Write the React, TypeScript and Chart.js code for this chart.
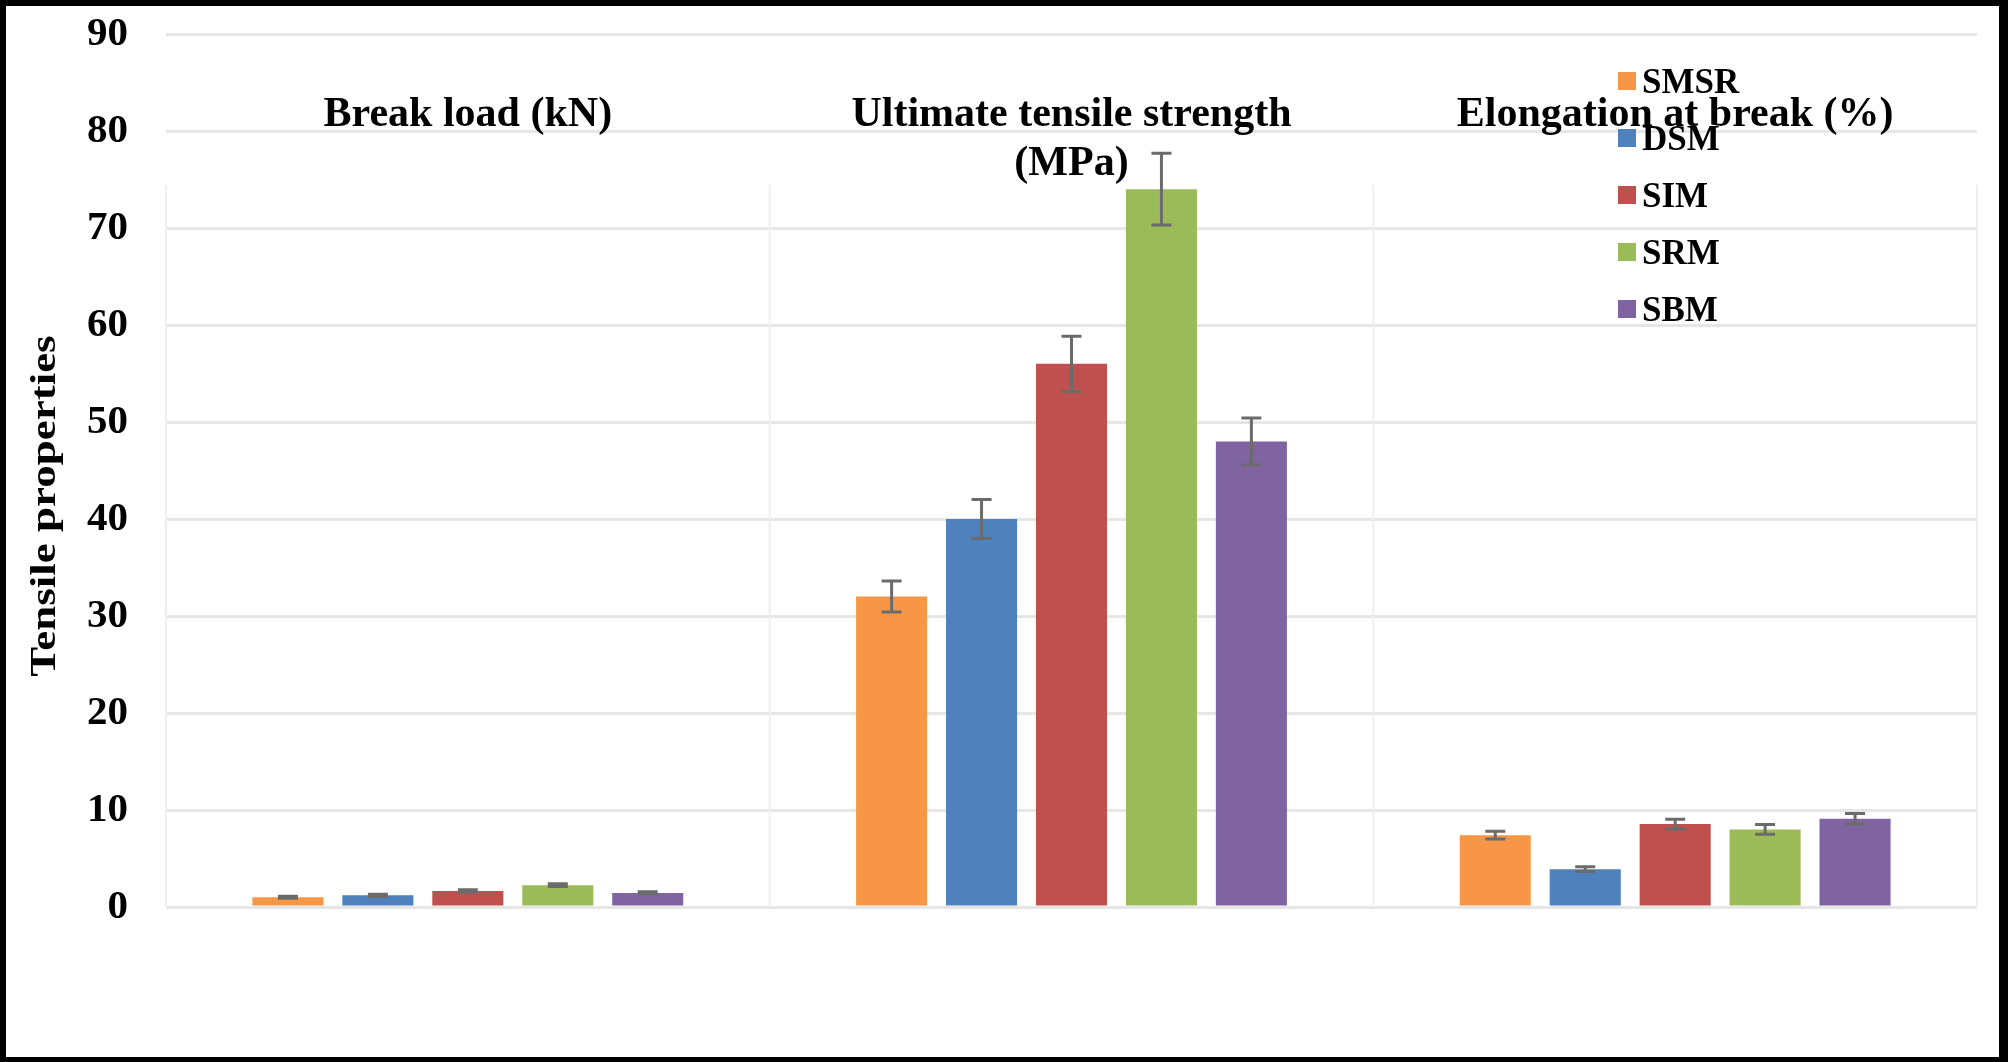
import React, { useEffect, useRef } from "react";
import { Chart, registerables } from "chart.js";

Chart.register(...registerables);

// ---------- data ----------
const categories: string[][] = [
  ["Break load (kN)"],
  ["Ultimate tensile strength", "(MPa)"],
  ["Elongation at break (%)"],
];
const seriesNames = ["SMSR", "DSM", "SIM", "SRM", "SBM"];
const seriesColors = ["#F79646", "#4F81BD", "#C0504D", "#9BBB59", "#8064A2"];

const smsrValues = [1.0, 32.0, 7.4];
const dsmValues = [1.2, 40.0, 3.9];
const simValues = [1.65, 56.0, 8.55];
const srmValues = [2.25, 74.0, 8.0];
const sbmValues = [1.45, 48.0, 9.1];

const smsrErrors = [0.1, 1.6, 0.4];
const dsmErrors = [0.12, 2.0, 0.25];
const simErrors = [0.12, 2.85, 0.5];
const srmErrors = [0.14, 3.7, 0.5];
const sbmErrors = [0.12, 2.4, 0.55];

const yMin = 0;
const yMax = 90;
const yStep = 10;
const yTitle = "Tensile properties";

const seriesValues = [smsrValues, dsmValues, simValues, srmValues, sbmValues];
const seriesErrors = [smsrErrors, dsmErrors, simErrors, srmErrors, sbmErrors];

const FONT = "'Liberation Serif', 'Times New Roman', serif";

export default function App() {
  const canvasRef = useRef<HTMLCanvasElement | null>(null);

  useEffect(() => {
    document.body.style.margin = "0";
    document.body.style.background = "#ffffff";
    const canvas = canvasRef.current;
    if (!canvas) return;

    const dividerPlugin = {
      id: "dividers",
      beforeDatasetsDraw(chart: any) {
        const xs = chart.scales.x;
        const area = chart.chartArea;
        const ctx = chart.ctx;
        const n = categories.length;
        const catW = (xs.right - xs.left) / n;
        ctx.save();
        ctx.strokeStyle = "#efefef";
        ctx.lineWidth = 2;
        for (let i = 0; i <= n; i++) {
          const x = xs.left + i * catW;
          ctx.beginPath();
          ctx.moveTo(x, area.top + 151);
          ctx.lineTo(x, area.bottom);
          ctx.stroke();
        }
        ctx.restore();
      },
    };

    const errorBarPlugin = {
      id: "errorBars",
      afterDatasetsDraw(chart: any) {
        const ctx = chart.ctx;
        const ys = chart.scales.y;
        ctx.save();
        ctx.strokeStyle = "#6b6b6b";
        ctx.lineWidth = 3;
        chart.data.datasets.forEach((ds: any, di: number) => {
          const meta = chart.getDatasetMeta(di);
          meta.data.forEach((bar: any, i: number) => {
            const v = ds.data[i];
            const e = seriesErrors[di][i];
            const yTop = ys.getPixelForValue(v + e);
            const yBot = ys.getPixelForValue(v - e);
            const x = bar.x;
            const cap = 10;
            ctx.beginPath();
            ctx.moveTo(x, yTop);
            ctx.lineTo(x, yBot);
            ctx.moveTo(x - cap, yTop);
            ctx.lineTo(x + cap, yTop);
            ctx.moveTo(x - cap, yBot);
            ctx.lineTo(x + cap, yBot);
            ctx.stroke();
          });
        });
        ctx.restore();
      },
    };

    const labelsPlugin = {
      id: "catLabels",
      afterDraw(chart: any) {
        const ctx = chart.ctx;
        const xs = chart.scales.x;
        const area = chart.chartArea;
        ctx.save();
        ctx.fillStyle = "#000000";
        ctx.font = `bold 42px ${FONT}`;
        ctx.textAlign = "center";
        ctx.textBaseline = "alphabetic";
        categories.forEach((lines, i) => {
          const x = xs.getPixelForValue(i);
          lines.forEach((ln, li) => {
            ctx.fillText(ln, x, area.top + 92 + li * 49);
          });
        });

        // legend
        ctx.font = `bold 35px ${FONT}`;
        ctx.textAlign = "left";
        const lx = area.right - 359;
        seriesNames.forEach((name, i) => {
          const cy = area.top + 47 + i * 57;
          ctx.fillStyle = seriesColors[i];
          ctx.fillRect(lx, cy - 9, 18, 18);
          ctx.fillStyle = "#000000";
          ctx.fillText(name, lx + 24, cy + 12);
        });

        // y axis title (slightly stretched along its length)
        ctx.save();
        ctx.translate(40, 500);
        ctx.rotate(-Math.PI / 2);
        ctx.scale(1.25, 1);
        ctx.font = `bold 36px ${FONT}`;
        ctx.textAlign = "center";
        ctx.textBaseline = "middle";
        ctx.fillStyle = "#000000";
        ctx.fillText(yTitle, 0, 0);
        ctx.restore();

        ctx.restore();
      },
    };

    const chart = new Chart(canvas, {
      type: "bar",
      data: {
        labels: categories.map((c) => c.join(" ")),
        datasets: seriesNames.map((name, i) => ({
          label: name,
          data: seriesValues[i],
          backgroundColor: seriesColors[i],
          borderWidth: 0,
          categoryPercentage: 0.745,
          barPercentage: 0.79,
        })),
      },
      options: {
        animation: false,
        responsive: true,
        maintainAspectRatio: false,
        layout: { padding: { left: 0, top: 28, right: 22, bottom: 150 } },
        plugins: {
          legend: { display: false },
          tooltip: { enabled: false },
          title: { display: false },
        },
        scales: {
          x: {
            display: false,
            grid: { display: false },
          },
          y: {
            min: yMin,
            max: yMax,
            afterFit(scale: any) {
              scale.width = 160;
              scale.paddingTop = 0;
              scale.paddingBottom = 0;
            },
            border: { display: false },
            grid: {
              color: "#e6e6e6",
              lineWidth: 3,
              drawTicks: false,
            },
            ticks: {
              stepSize: yStep,
              padding: 38,
              color: "#000000",
              font: { family: FONT, size: 41, weight: "bold" },
            },
          },
        },
      },
      plugins: [dividerPlugin, errorBarPlugin, labelsPlugin],
    } as any);

    return () => {
      chart.destroy();
    };
  }, []);

  return (
    <div
      style={{
        width: 2008,
        height: 1062,
        boxSizing: "border-box",
        borderStyle: "solid",
        borderColor: "#000000",
        borderWidth: "6px 9px 5px 6px",
        background: "#ffffff",
        position: "relative",
      }}
    >
      <div style={{ position: "relative", width: 1993, height: 1051 }}>
        <canvas ref={canvasRef} />
      </div>
    </div>
  );
}
